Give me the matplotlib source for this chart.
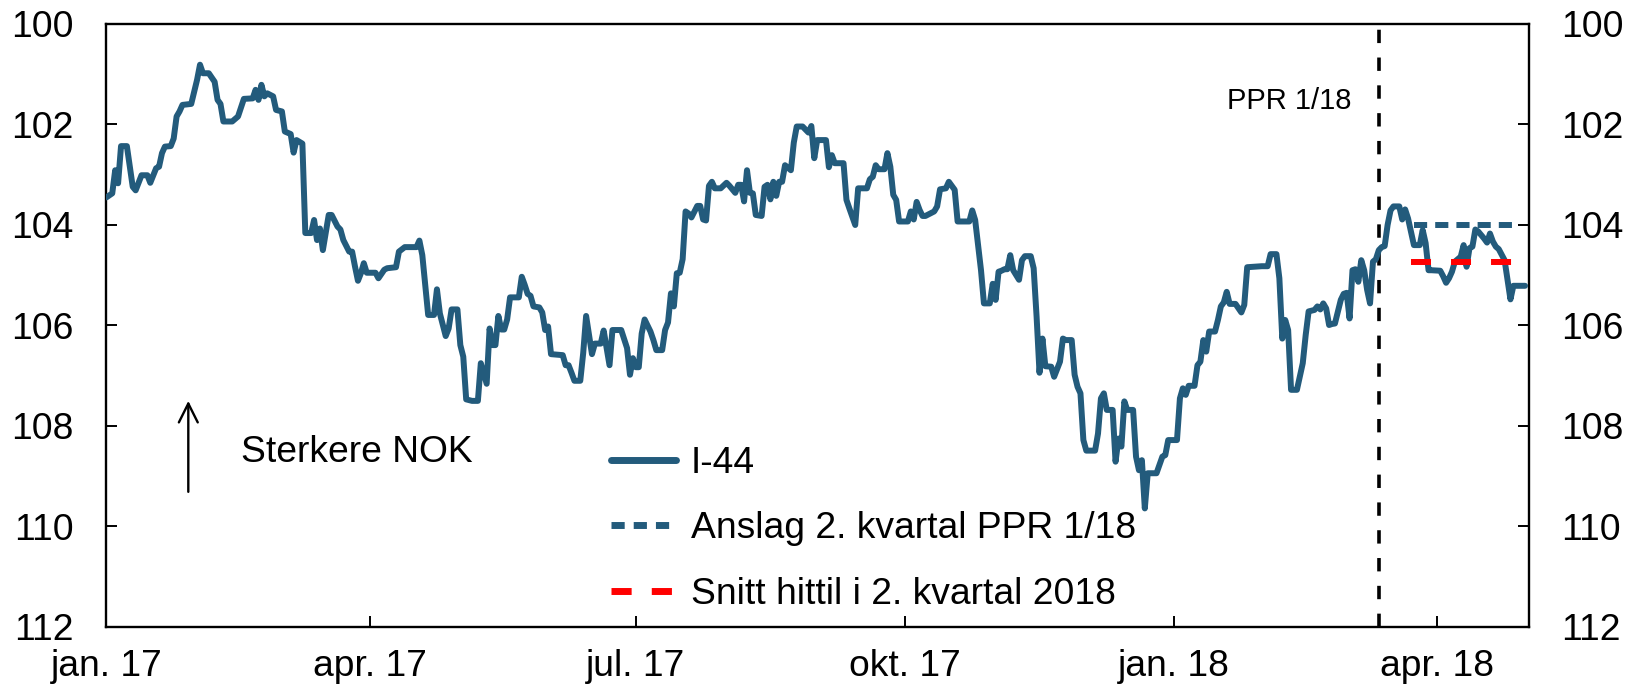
import matplotlib
matplotlib.use("Agg")
import matplotlib.pyplot as plt
import matplotlib.dates as mdates
from matplotlib.lines import Line2D
import pandas as pd

plt.rcParams['font.family'] = ['Liberation Sans', 'DejaVu Sans']

# ---------------- data ----------------
dates_i44 = [
 "2017-01-01","2017-01-03","2017-01-04","2017-01-05","2017-01-06","2017-01-08","2017-01-10","2017-01-11",
 "2017-01-13","2017-01-15","2017-01-16","2017-01-18","2017-01-19","2017-01-20","2017-01-21","2017-01-23",
 "2017-01-24","2017-01-25","2017-01-26","2017-01-27","2017-01-30","2017-02-01","2017-02-02","2017-02-03",
 "2017-02-05","2017-02-07","2017-02-08","2017-02-09","2017-02-10","2017-02-13","2017-02-15","2017-02-17",
 "2017-02-20","2017-02-21","2017-02-22","2017-02-23","2017-02-24","2017-02-25","2017-02-27","2017-02-28",
 "2017-03-02","2017-03-03","2017-03-05","2017-03-06","2017-03-07","2017-03-09","2017-03-10","2017-03-12",
 "2017-03-13","2017-03-14","2017-03-15","2017-03-16","2017-03-18","2017-03-19","2017-03-21","2017-03-22",
 "2017-03-23","2017-03-25","2017-03-26","2017-03-27","2017-03-28","2017-03-29","2017-03-30","2017-03-31",
 "2017-04-03","2017-04-04","2017-04-06","2017-04-07","2017-04-10","2017-04-11","2017-04-13","2017-04-17",
 "2017-04-18","2017-04-19","2017-04-21","2017-04-23","2017-04-24","2017-04-25","2017-04-27","2017-04-28",
 "2017-04-29","2017-05-01","2017-05-02","2017-05-03","2017-05-04","2017-05-06","2017-05-08","2017-05-09",
 "2017-05-11","2017-05-12","2017-05-13","2017-05-14","2017-05-15","2017-05-16","2017-05-17","2017-05-18",
 "2017-05-19","2017-05-22","2017-05-23","2017-05-24","2017-05-25","2017-05-26","2017-05-27","2017-05-29",
 "2017-05-30","2017-05-31","2017-06-01","2017-06-02","2017-06-06","2017-06-07","2017-06-08","2017-06-09",
 "2017-06-10","2017-06-12","2017-06-13","2017-06-14","2017-06-16","2017-06-17","2017-06-19","2017-06-20",
 "2017-06-21","2017-06-22","2017-06-23","2017-06-26","2017-06-28","2017-06-29","2017-06-30","2017-07-01",
 "2017-07-02","2017-07-03","2017-07-04","2017-07-06","2017-07-07","2017-07-08","2017-07-10","2017-07-11",
 "2017-07-12","2017-07-13","2017-07-14","2017-07-15","2017-07-16","2017-07-17","2017-07-18","2017-07-19",
 "2017-07-20","2017-07-22","2017-07-23","2017-07-24","2017-07-25","2017-07-26","2017-07-27","2017-07-28",
 "2017-07-30","2017-08-01","2017-08-02","2017-08-04","2017-08-05","2017-08-06","2017-08-07","2017-08-08",
 "2017-08-09","2017-08-10","2017-08-11","2017-08-13","2017-08-14","2017-08-15","2017-08-16","2017-08-17",
 "2017-08-18","2017-08-19","2017-08-20","2017-08-21","2017-08-23","2017-08-24","2017-08-25","2017-08-27",
 "2017-08-29","2017-08-30","2017-08-31","2017-09-01","2017-09-04","2017-09-05","2017-09-06","2017-09-07",
 "2017-09-10","2017-09-11","2017-09-12","2017-09-14","2017-09-15","2017-09-18","2017-09-19","2017-09-20",
 "2017-09-21","2017-09-22","2017-09-24","2017-09-25","2017-09-26","2017-09-27","2017-09-28","2017-09-29",
 "2017-10-02","2017-10-03","2017-10-04","2017-10-05","2017-10-06","2017-10-07","2017-10-08","2017-10-11",
 "2017-10-12","2017-10-13","2017-10-15","2017-10-16","2017-10-18","2017-10-19","2017-10-23","2017-10-24",
 "2017-10-25","2017-10-27","2017-10-28","2017-10-30","2017-10-31","2017-11-01","2017-11-02","2017-11-03",
 "2017-11-04","2017-11-05","2017-11-06","2017-11-07","2017-11-09","2017-11-10","2017-11-11","2017-11-13",
 "2017-11-14","2017-11-15","2017-11-16","2017-11-17","2017-11-18","2017-11-20","2017-11-21","2017-11-23",
 "2017-11-24","2017-11-25","2017-11-27","2017-11-28","2017-11-29","2017-11-30","2017-12-01","2017-12-02",
 "2017-12-05","2017-12-06","2017-12-07","2017-12-08","2017-12-09","2017-12-11","2017-12-12","2017-12-13",
 "2017-12-14","2017-12-15","2017-12-16","2017-12-18","2017-12-19","2017-12-20","2017-12-21","2017-12-22",
 "2017-12-23","2017-12-26","2017-12-28","2017-12-29","2017-12-30","2018-01-02","2018-01-03","2018-01-04",
 "2018-01-05","2018-01-06","2018-01-08","2018-01-09","2018-01-10","2018-01-11","2018-01-12","2018-01-13",
 "2018-01-15","2018-01-16","2018-01-17","2018-01-18","2018-01-19","2018-01-20","2018-01-22","2018-01-24",
 "2018-01-25","2018-01-26","2018-01-31","2018-02-02","2018-02-03","2018-02-05","2018-02-06","2018-02-07",
 "2018-02-08","2018-02-09","2018-02-10","2018-02-12","2018-02-14","2018-02-15","2018-02-16","2018-02-18",
 "2018-02-19","2018-02-20","2018-02-21","2018-02-22","2018-02-23","2018-02-24","2018-02-25","2018-02-27",
 "2018-02-28","2018-03-01","2018-03-02","2018-03-03","2018-03-04","2018-03-05","2018-03-06","2018-03-07",
 "2018-03-08","2018-03-09","2018-03-10","2018-03-11","2018-03-12","2018-03-13","2018-03-14","2018-03-15",
 "2018-03-16","2018-03-17","2018-03-19","2018-03-20","2018-03-21","2018-03-22","2018-03-23","2018-03-24",
 "2018-03-26","2018-03-27","2018-03-28","2018-03-29","2018-03-30","2018-04-02","2018-04-03","2018-04-04",
 "2018-04-05","2018-04-06","2018-04-07","2018-04-09","2018-04-10","2018-04-11","2018-04-12","2018-04-13",
 "2018-04-14","2018-04-15","2018-04-17","2018-04-18","2018-04-19","2018-04-20","2018-04-21","2018-04-22",
 "2018-04-24","2018-04-25","2018-04-26","2018-04-27","2018-05-01",
]
values_i44 = [
 103.46,103.38,102.92,103.18,102.44,102.44,103.25,103.32,
 103.02,103.02,103.17,102.88,102.85,102.58,102.45,102.44,
 102.29,101.85,101.75,101.62,101.60,101.12,100.82,100.99,
 100.99,101.16,101.52,101.60,101.95,101.95,101.85,101.50,
 101.49,101.32,101.52,101.22,101.45,101.39,101.45,101.72,
 101.75,102.15,102.20,102.57,102.32,102.39,104.17,104.17,
 103.91,104.31,104.08,104.51,103.81,103.81,104.04,104.10,
 104.31,104.54,104.54,104.84,105.12,104.97,104.77,104.96,
 104.96,105.07,104.90,104.87,104.85,104.54,104.45,104.45,
 104.32,104.61,105.80,105.80,105.29,105.77,106.22,106.07,
 105.69,105.69,106.40,106.63,107.48,107.51,107.51,106.76,
 107.17,106.07,106.40,106.40,105.82,106.09,106.09,105.89,
 105.45,105.45,105.04,105.20,105.38,105.42,105.63,105.65,
 105.75,106.10,106.03,106.58,106.60,106.80,106.80,106.95,
 107.11,107.11,106.56,105.82,106.58,106.37,106.37,106.11,
 106.46,106.80,106.10,106.10,106.46,106.99,106.66,106.84,
 106.84,106.17,105.89,106.13,106.30,106.50,106.50,106.10,
 105.95,105.37,105.63,104.97,104.96,104.69,103.74,103.78,
 103.86,103.63,103.63,103.90,103.92,103.23,103.15,103.28,
 103.28,103.17,103.23,103.37,103.21,103.21,103.54,102.92,
 103.37,103.38,103.81,103.83,103.25,103.21,103.50,103.15,
 103.43,103.15,103.15,102.82,102.92,102.37,102.05,102.05,
 102.17,102.04,102.68,102.32,102.32,102.86,102.62,102.78,
 102.78,103.51,103.68,104.01,103.28,103.28,103.10,103.05,
 102.82,102.90,102.90,102.58,102.85,103.41,103.51,103.94,
 103.94,103.74,103.90,103.55,103.71,103.83,103.83,103.74,
 103.64,103.30,103.28,103.15,103.31,103.94,103.94,103.72,
 103.91,104.91,105.57,105.57,105.18,105.50,104.94,104.92,
 104.89,104.89,104.61,104.91,105.10,104.71,104.63,104.63,
 104.87,105.83,106.95,106.27,106.82,106.83,107.03,106.73,
 106.27,106.30,106.30,106.99,107.23,107.36,108.29,108.50,
 108.50,108.16,107.46,107.36,107.69,107.69,108.72,108.26,
 108.42,107.52,107.69,107.69,108.62,108.89,108.69,109.65,
 108.95,108.95,108.62,108.59,108.29,108.29,107.46,107.26,
 107.39,107.21,107.21,106.80,106.73,106.30,106.53,106.13,
 106.13,105.90,105.63,105.55,105.34,105.58,105.58,105.75,
 105.60,104.85,104.83,104.83,104.59,104.59,105.07,106.27,
 105.90,106.10,107.29,107.29,106.76,106.20,105.73,105.70,
 105.63,105.69,105.57,105.67,106.00,105.98,105.97,105.50,
 105.38,105.36,105.87,104.91,104.89,105.14,104.71,104.91,
 105.30,105.57,104.74,104.69,104.51,104.45,104.43,104.01,
 103.72,103.64,103.64,103.90,103.70,103.88,104.14,104.41,
 104.41,104.11,104.37,104.91,104.91,104.92,105.03,105.16,
 105.07,104.94,104.74,104.64,104.41,104.84,104.47,104.44,
 104.10,104.14,104.28,104.36,104.18,104.34,104.44,104.49,
 104.71,105.10,105.49,105.22,105.22,
]

forecast_dates = ["2018-03-24", "2018-04-28"]
forecast_values = [104.0, 104.0]
avg_dates = ["2018-03-23", "2018-04-27"]
avg_values = [104.74, 104.74]

ppr_date = "2018-03-12"

series_labels = ["I-44", "Anslag 2. kvartal PPR 1/18", "Snitt hittil i 2. kvartal 2018"]
tick_dates = ["2017-01-01", "2017-04-01", "2017-07-01", "2017-10-01", "2018-01-01", "2018-04-01"]
tick_labels = ["jan. 17", "apr. 17", "jul. 17", "okt. 17", "jan. 18", "apr. 18"]
y_ticks = [100, 102, 104, 106, 108, 110, 112]

# ---------------- figure ----------------
BLUE = '#235B7C'
RED = '#FF0000'
FS = 26.8
LW = 4.3

fig = plt.figure(figsize=(16.41, 6.92), dpi=100)
ax = fig.add_axes([0.06484, 0.09465, 0.86667, 0.87139])

x = pd.to_datetime(dates_i44)
ax.plot(x, values_i44, color=BLUE, lw=LW, solid_joinstyle='round', solid_capstyle='round', zorder=3)
ax.plot(pd.to_datetime(forecast_dates), forecast_values, color=BLUE, lw=LW,
        linestyle=(0, (2.2, 1.35)), dash_capstyle='butt', zorder=4)
ax.plot(pd.to_datetime(avg_dates), avg_values, color=RED, lw=LW,
        linestyle=(0, (3.35, 3.35)), dash_capstyle='butt', zorder=5)

ax.axvline(pd.Timestamp(ppr_date), color='black', lw=2.6, linestyle=(0, (3.7, 4.0)), zorder=2)

ax.set_xlim(pd.Timestamp("2017-01-01"), pd.Timestamp("2018-05-02 05:00"))
ax.set_ylim(112, 100)
ax.set_yticks(y_ticks)
ax.set_xticks(pd.to_datetime(tick_dates))
ax.set_xticklabels(tick_labels)

for s in ax.spines.values():
    s.set_linewidth(1.7)
    s.set_color('black')

ax.tick_params(axis='y', which='both', direction='in', length=7.6, width=1.4,
               left=True, right=True, labelleft=True, labelright=True, labelsize=FS, pad=23.5)
ax.tick_params(axis='x', which='both', direction='in', length=7.6, width=1.4,
               top=False, bottom=True, labelsize=FS, pad=16.5)

# annotations
ax.annotate('', xy=(pd.Timestamp("2017-01-29"), 107.51), xytext=(pd.Timestamp("2017-01-29"), 109.32),
            arrowprops=dict(arrowstyle='->, head_length=0.4, head_width=0.2', lw=1.7,
                            color='black', mutation_scale=34, shrinkA=0, shrinkB=0))
ax.text(pd.Timestamp("2017-02-16"), 108.72, "Sterkere NOK", fontsize=FS, ha='left', va='baseline')
ax.text(pd.Timestamp("2018-03-02 17:00"), 101.70, "PPR 1/18", fontsize=21, ha='right', va='baseline')

handles = [
    Line2D([], [], color=BLUE, lw=5.0, solid_capstyle='round'),
    Line2D([], [], color=BLUE, lw=5.0, linestyle=(0, (1.9, 1.3))),
    Line2D([], [], color=RED, lw=5.0, linestyle=(0, (2.9, 2.9))),
]
ax.legend(handles, series_labels, loc='upper left', bbox_to_anchor=(0.3546, 0.300),
          frameon=False, fontsize=FS, handlelength=1.76, handletextpad=0.4,
          labelspacing=0.82, borderpad=0, borderaxespad=0)

fig.savefig("out.png", dpi=100)
